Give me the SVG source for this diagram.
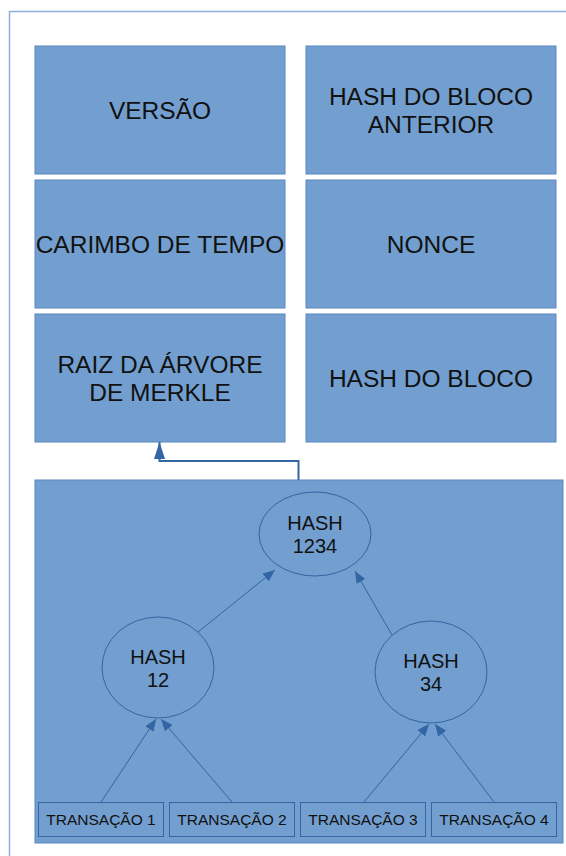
<svg xmlns="http://www.w3.org/2000/svg" width="566" height="856" viewBox="0 0 566 856">
<style>
.box{fill:#729fcf;stroke:#5b88c2;stroke-width:1}
.big{font-family:"Liberation Sans",Arial,sans-serif;font-size:24.5px;fill:#111;text-anchor:middle}
.mid{font-family:"Liberation Sans",Arial,sans-serif;font-size:20px;fill:#111;text-anchor:middle}
.sm{font-family:"Liberation Sans",Arial,sans-serif;font-size:15.5px;fill:#111;text-anchor:middle}
.ell{fill:#729fcf;stroke:#3465a4;stroke-width:1}
.tx{fill:#729fcf;stroke:#3465a4;stroke-width:1}
.con{fill:none;stroke:#3465a4;stroke-width:1}
.main{fill:none;stroke:#3465a4;stroke-width:2}
</style>
<defs>
<marker id="ah" viewBox="0 0 12 10" refX="12" refY="5" markerWidth="12" markerHeight="10" markerUnits="userSpaceOnUse" orient="auto"><path d="M0,0 L12,5 L0,10 z" fill="#3465a4"/></marker>
<marker id="ahB" viewBox="0 0 17 11" refX="17" refY="5.5" markerWidth="17" markerHeight="11" markerUnits="userSpaceOnUse" orient="auto"><path d="M0,0 L17,5.5 L0,11 z" fill="#3465a4"/></marker>
</defs>
<rect width="566" height="856" fill="#fff"/>
<rect id="frame" x="9.5" y="11.5" width="620" height="900" fill="none" stroke="#8fb0dc" stroke-width="1.5"/>
<g id="versao"><rect class="box" x="35" y="46" width="250" height="128"/><text class="big" x="160" y="118.5">VERSÃO</text></g>
<g id="hash-anterior"><rect class="box" x="306" y="46" width="250" height="128"/><text class="big" x="431" y="104.5">HASH DO BLOCO</text><text class="big" x="431" y="133">ANTERIOR</text></g>
<g id="carimbo"><rect class="box" x="35" y="180" width="250" height="128"/><text class="big" x="160" y="252.5">CARIMBO DE TEMPO</text></g>
<g id="nonce"><rect class="box" x="306" y="180" width="250" height="128"/><text class="big" x="431" y="252.5">NONCE</text></g>
<g id="raiz"><rect class="box" x="35" y="314" width="250" height="128"/><text class="big" x="160" y="372.5">RAIZ DA ÁRVORE</text><text class="big" x="160" y="401">DE MERKLE</text></g>
<g id="hash-bloco"><rect class="box" x="306" y="314" width="250" height="128"/><text class="big" x="431" y="386.5">HASH DO BLOCO</text></g>
<g id="merkle"><rect class="box" x="35" y="480" width="528" height="363"/></g>
<g id="h1234"><ellipse class="ell" cx="315" cy="534" rx="56" ry="42"/><text class="mid" x="315" y="530">HASH</text><text class="mid" x="315" y="553">1234</text></g>
<g id="h12"><ellipse class="ell" cx="158" cy="667.5" rx="56" ry="50.5"/><text class="mid" x="158" y="664">HASH</text><text class="mid" x="158" y="687">12</text></g>
<g id="h34"><ellipse class="ell" cx="431" cy="672" rx="56" ry="51"/><text class="mid" x="431" y="668">HASH</text><text class="mid" x="431" y="691">34</text></g>
<g id="t1"><rect class="tx" x="38.5" y="802.5" width="125" height="34"/><text class="sm" x="101" y="825">TRANSAÇÃO 1</text></g>
<g id="t2"><rect class="tx" x="169.5" y="802.5" width="125" height="34"/><text class="sm" x="232" y="825">TRANSAÇÃO 2</text></g>
<g id="t3"><rect class="tx" x="300.5" y="802.5" width="125" height="34"/><text class="sm" x="363" y="825">TRANSAÇÃO 3</text></g>
<g id="t4"><rect class="tx" x="431.5" y="802.5" width="125" height="34"/><text class="sm" x="494" y="825">TRANSAÇÃO 4</text></g>
<g id="connectors">
<path class="main" d="M298.5,480 V461 H159.5 V442" marker-end="url(#ahB)"/>
<line class="con" x1="101" y1="802" x2="156" y2="719" marker-end="url(#ah)"/>
<line class="con" x1="232" y1="802" x2="161" y2="719" marker-end="url(#ah)"/>
<line class="con" x1="364" y1="802" x2="429" y2="724" marker-end="url(#ah)"/>
<line class="con" x1="494" y1="802" x2="435" y2="724" marker-end="url(#ah)"/>
<line class="con" x1="198" y1="632" x2="275" y2="570" marker-end="url(#ah)"/>
<line class="con" x1="392" y1="635" x2="355" y2="571" marker-end="url(#ah)"/>
</g>
</svg>
